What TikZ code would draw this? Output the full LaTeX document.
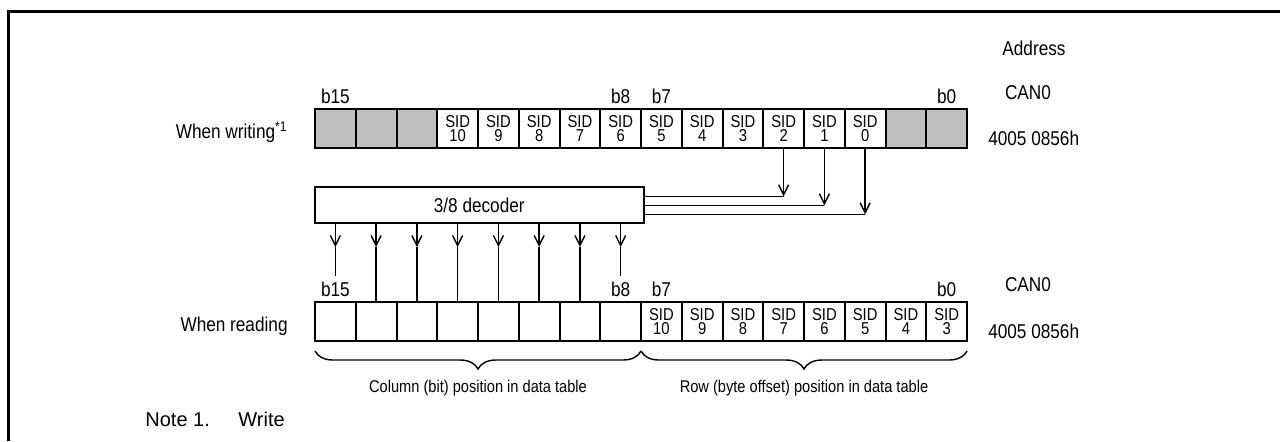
\documentclass[tikz,border=0pt]{standalone}
\usepackage{fontspec}
\setmainfont{Liberation Sans}
\newfontfamily\narrowfont[FakeStretch=0.86]{Liberation Sans}
\usepackage{tikz}
\usetikzlibrary{arrows.meta,positioning,calc,decorations.pathreplacing}
\definecolor{cellgray}{RGB}{192,192,192}

\begin{document}
\begin{tikzpicture}[
  x=0.5pt, y=-0.5pt,
  cell/.style={draw, line width=1pt, minimum width=20.375pt, minimum height=19.5pt, inner sep=0pt, outer sep=0pt, align=center, font=\narrowfont\fontsize{8.6}{7}\selectfont},
  greycell/.style={cell, fill=cellgray},
  lbl/.style={font=\narrowfont\fontsize{10}{12}\selectfont, inner sep=0pt},
  capt/.style={font=\narrowfont\fontsize{8.5}{10}\selectfont, inner sep=0pt},
  wire/.style={line width=0.7pt},
  >={Straight Barb[length=5pt,width=5pt]}]
  \useasboundingbox (0,0) rectangle (1280,441);
  % frame
  \draw[line width=1.5pt] (8,441) -- (8,11) -- (1280,11);
  % When writing
  \foreach \b in {15,14,13,1,0}
    \node[greycell] (w\b) at ({315+(15.5-\b)*40.75},128.5) {};
  \foreach \b [evaluate=\b as \s using int(\b-2)] in {12,...,2}
    \node[cell] (w\b) at ({315+(15.5-\b)*40.75},128.5) {SID\\\s};
  \node[lbl, anchor=base east] (wlab) at (288,138.5) {When writing\textsuperscript{*1}};
  % When reading
  \foreach \b in {15,...,8}
    \node[cell] (r\b) at ({315+(15.5-\b)*40.75},321.5) {};
  \foreach \b [evaluate=\b as \s using int(\b+3)] in {7,...,0}
    \node[cell] (r\b) at ({315+(15.5-\b)*40.75},321.5) {SID\\\s};
  \node[lbl, anchor=base east] (rlab) at (288,331.5) {When reading};
  % bit numbers
  \foreach \b in {15,8,7,0} {
    \node[lbl] (wb\b) at ([yshift=6.5pt]w\b.north) {b\b};
    \node[lbl] (rb\b) at ([yshift=6.5pt]r\b.north) {b\b};
  }
  % address
  \node[lbl] (addr) at (1034,48) {Address};
  \node[lbl] (wcan) at (1028,92.5) {CAN0};
  \node[lbl] (wadr) at (1033.7,138) {4005 0856h};
  \node[lbl] (rcan) at (1028,285) {CAN0};
  \node[lbl] (radr) at (1033.7,331) {4005 0856h};
  % decoder
  \node[draw, line width=1pt, minimum width=164.25pt, minimum height=18pt, inner sep=0pt, lbl] (dec) at (479.25,205.3) {3/8 decoder};
  \coordinate (d2) at ([yshift=4.5pt]dec.east);
  \coordinate (d1) at (dec.east);
  \coordinate (d0) at ([yshift=-4.5pt]dec.east);
  \foreach \b/\o in {4/d2,3/d1,2/d0} {
    \draw[wire, ->] (w\b.south) -- (w\b.south |- \o);
    \draw[wire] (\o) -- (w\b.south |- \o);
  }
  \coordinate (tips) at (0,247);
  \coordinate (stub) at (0,276);
  \foreach \b in {15,...,8}
    \draw[wire, ->] (dec.south -| r\b) -- (r\b |- tips);
  \foreach \b in {14,...,9}
    \draw[wire] (r\b |- tips) -- (r\b.north);
  \draw[wire] (r15 |- tips) -- (r15 |- stub);
  \draw[wire] (r8 |- tips) -- (r8 |- stub);
  % braces
  \draw[wire, decorate, decoration={brace, mirror, amplitude=9pt}] ([yshift=-5pt]r15.south west) -- ([yshift=-5pt]r8.south east);
  \draw[wire, decorate, decoration={brace, mirror, amplitude=9pt}] ([yshift=-5pt]r7.south west) -- ([yshift=-5pt]r0.south east);
  \node[capt] (colcap) at ($(r15.south west)!0.5!(r8.south east) + (0,47)$) {Column (bit) position in data table};
  \node[capt] (rowcap) at ($(r7.south west)!0.5!(r0.south east) + (0,47)$) {Row (byte offset) position in data table};
  % note
  \node[anchor=base west, inner sep=0pt, font=\fontsize{10}{12}\selectfont] (note) at (145,426) {Note 1.};
  \node[anchor=base west, inner sep=0pt, font=\fontsize{10}{12}\selectfont] (notew) at (238,426) {Write};
\end{tikzpicture}
\end{document}
